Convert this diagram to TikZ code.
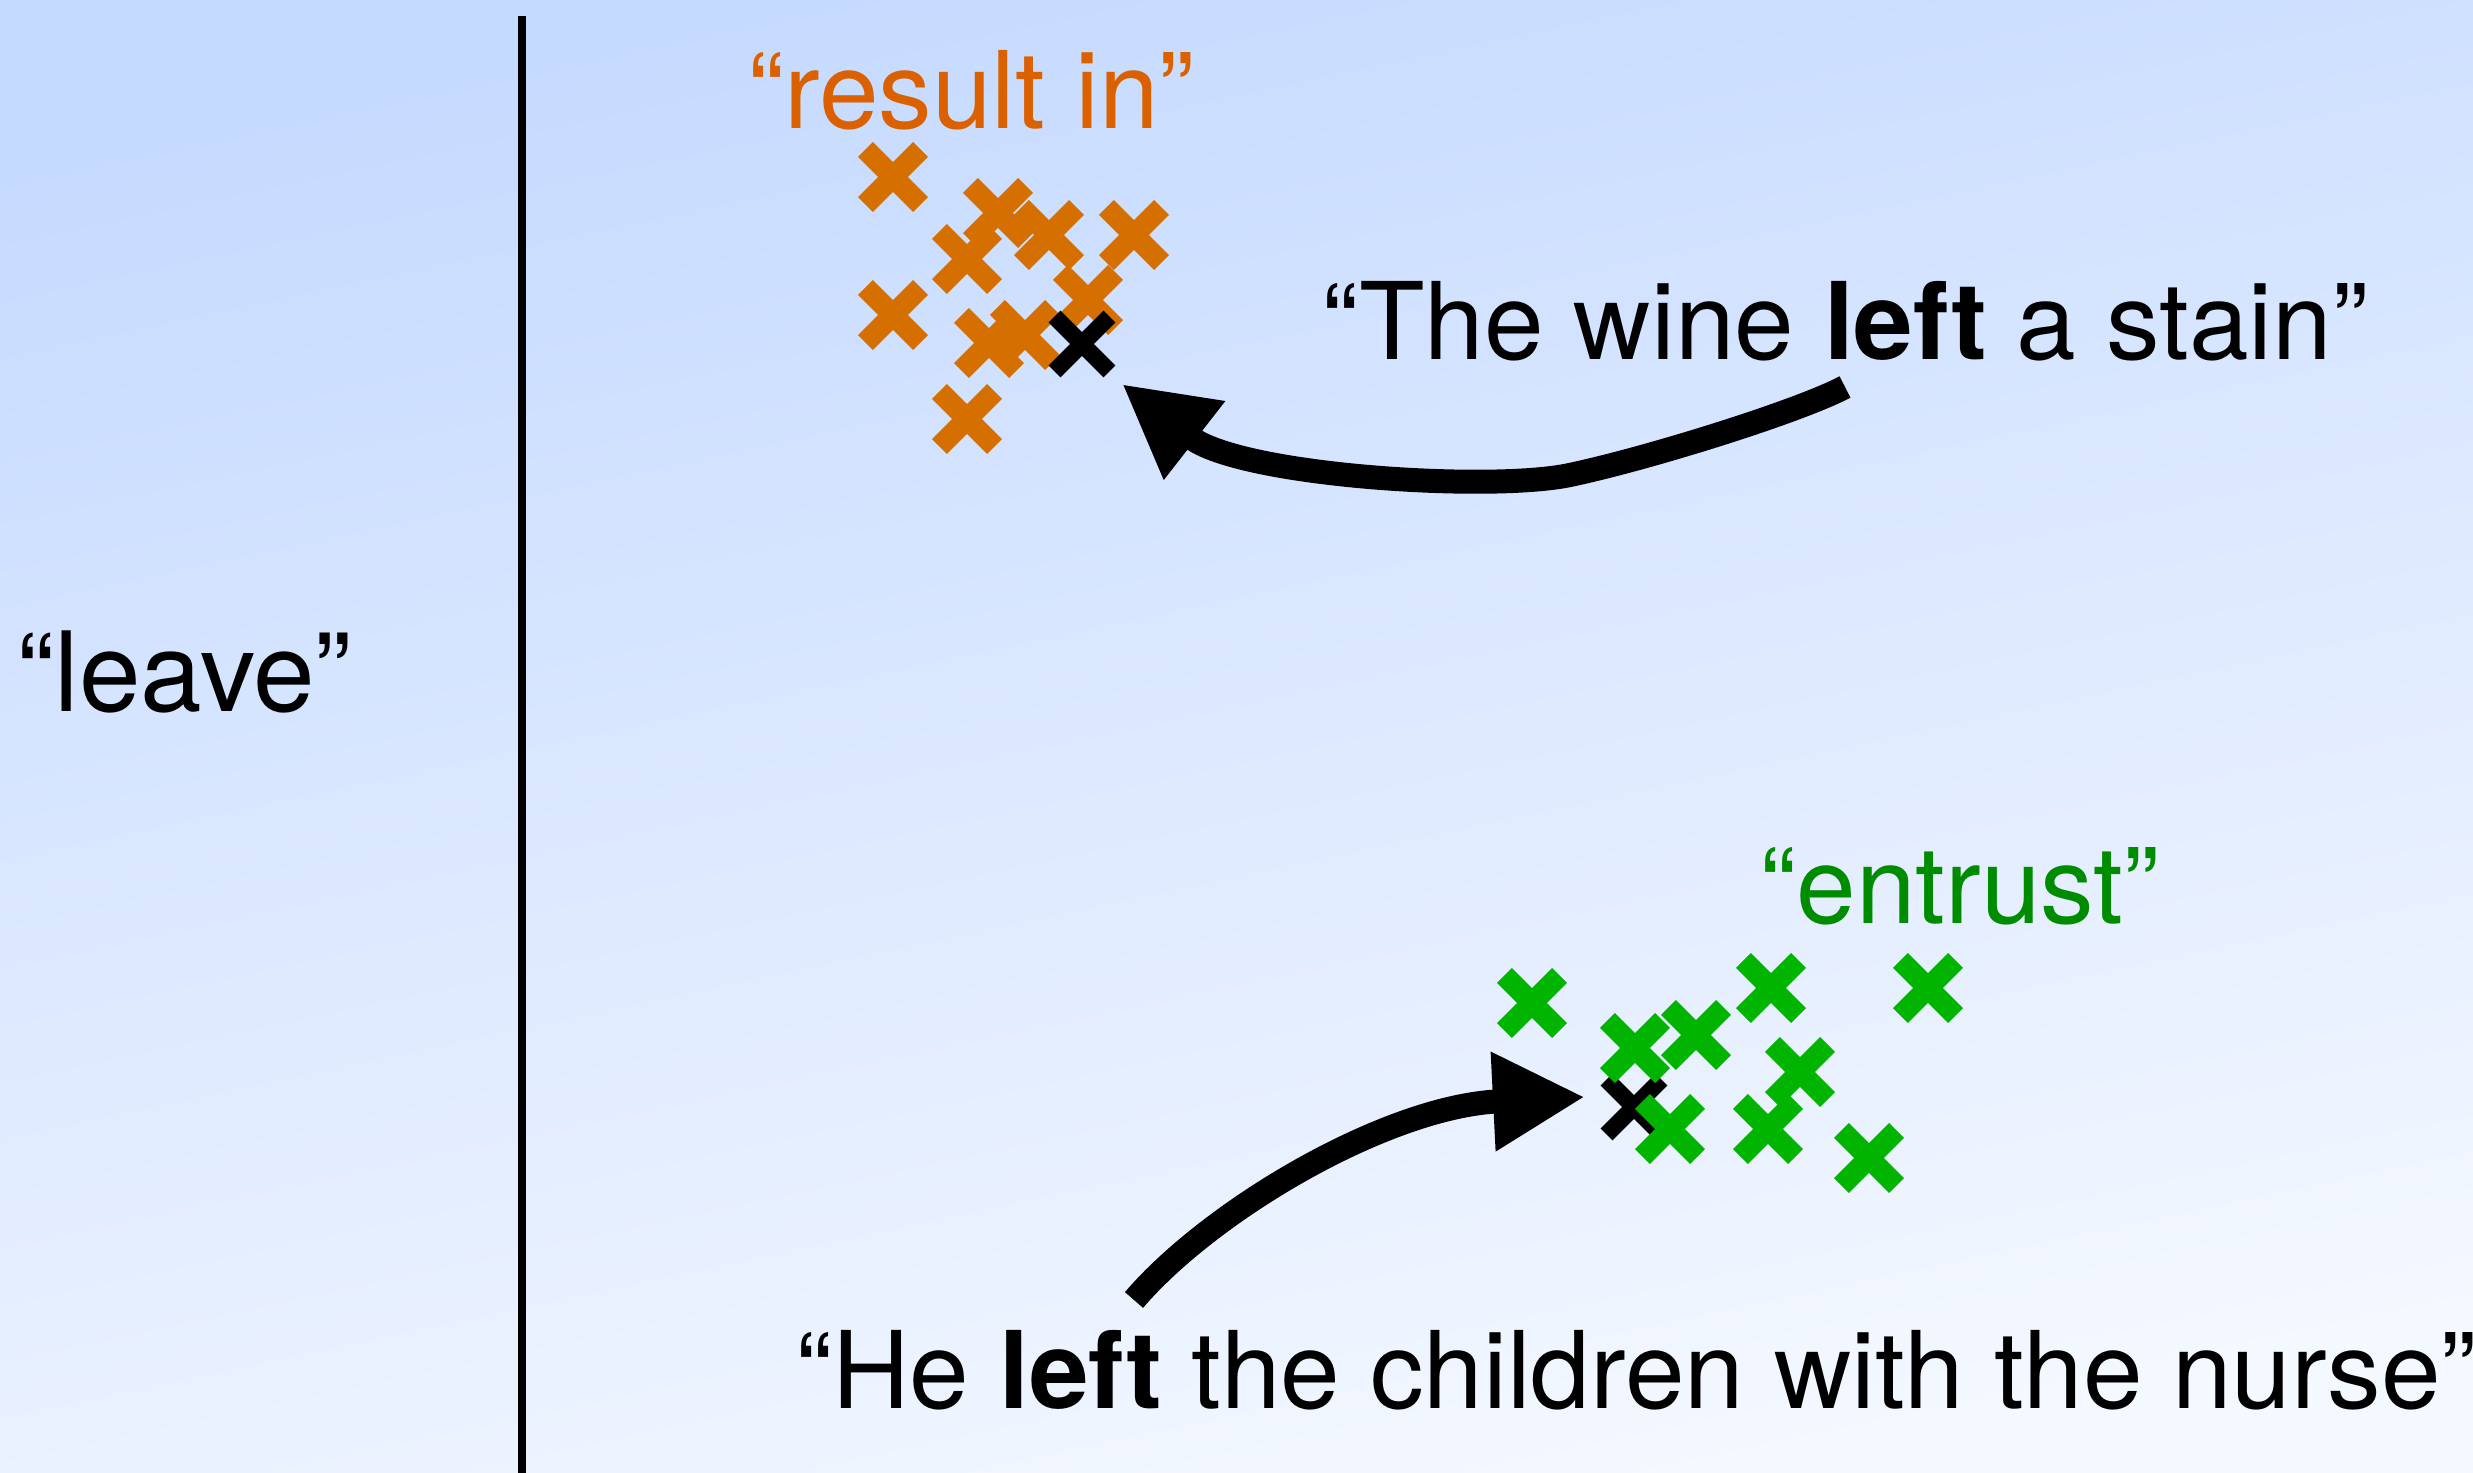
\documentclass[tikz,border=0pt]{standalone}
\usepackage{fontspec}
\setmainfont{TeX Gyre Heros}
\usetikzlibrary{arrows.meta,shapes.misc}

\definecolor{bgTop}{RGB}{197,218,255}
\definecolor{bgBot}{RGB}{244,248,255}
\definecolor{rinMark}{RGB}{213,112,0}
\definecolor{rinText}{RGB}{219,97,0}
\definecolor{entMark}{RGB}{0,180,0}
\definecolor{entText}{RGB}{0,140,0}

\begin{document}
\begin{tikzpicture}[
    sense/.style={anchor=base west, inner sep=0pt, font=\fontsize{30.5}{36}\selectfont},
    tok/.style={cross out, draw=#1, line width=6pt, minimum size=3.4mm, inner sep=0pt},
    bigarrow/.style={line width=0.24cm, -{Triangle[length=0.92cm,width=0.93cm]}}]
  \shade[top color=bgTop, bottom color=bgBot, shading angle=12] (0,0) rectangle (24.73,14.73);
  \useasboundingbox (0,0) rectangle (24.73,14.73);

  % word and the axis
  \node[sense, font=\fontsize{31.5}{36}\selectfont] (leave) at (0.17,7.61) {``leave''};
  \draw[line width=2pt] (5.22,0) -- (5.22,14.57);

  % sense labels and example sentences
  \node[sense, text=rinText] (resultin) at (7.48,13.44) {``result in''};
  \node[sense] (wine) at (13.22,11.13) {``The wine \textbf{left} a stain''};
  \node[sense, text=entText] (entrust) at (17.60,5.49) {``entrust''};
  \node[sense] (nurse) at (7.96,0.64) {``He \textbf{left} the children with the nurse''};

  % "result in" cluster
  \foreach \x/\y [count=\i] in {8.93/12.96, 9.98/12.60, 10.49/12.38, 11.34/12.38, 9.67/12.14,
      10.88/11.73, 8.93/11.58, 9.89/11.30, 10.25/11.38, 9.67/10.54}
    \node[tok=rinMark] (r\i) at (\x,\y) {};
  \node[tok=black, line width=4.8pt, minimum size=3.8mm] (wordA) at (10.82,11.29) {};

  % "entrust" cluster
  \node[tok=black, line width=4.8pt, minimum size=3.8mm] (wordB) at (16.34,3.66) {};
  \foreach \x/\y [count=\i] in {15.32/4.70, 16.35/4.25, 16.96/4.38, 17.71/4.85, 19.28/4.85,
      18.00/4.01, 16.70/3.44, 17.68/3.44, 18.69/3.15}
    \node[tok=entMark] (e\i) at (\x,\y) {};

  % arrows from the sentences to their tokens
  \coordinate (tailA) at (18.45,10.86);
  \coordinate (tipA) at (11.22,10.89);
  \draw[bigarrow] (tailA) .. controls (18.0,10.62) and (16.5,10.15) .. (15.70,9.98)
    .. controls (14.9,9.81) and (12.40,9.97) .. (tipA);

  \coordinate (tailB) at (11.34,1.73);
  \coordinate (tipB) at (15.85,3.76);
  \draw[bigarrow] (tailB) .. controls (12.10,2.62) and (13.85,3.66) .. (tipB);
\end{tikzpicture}
\end{document}
